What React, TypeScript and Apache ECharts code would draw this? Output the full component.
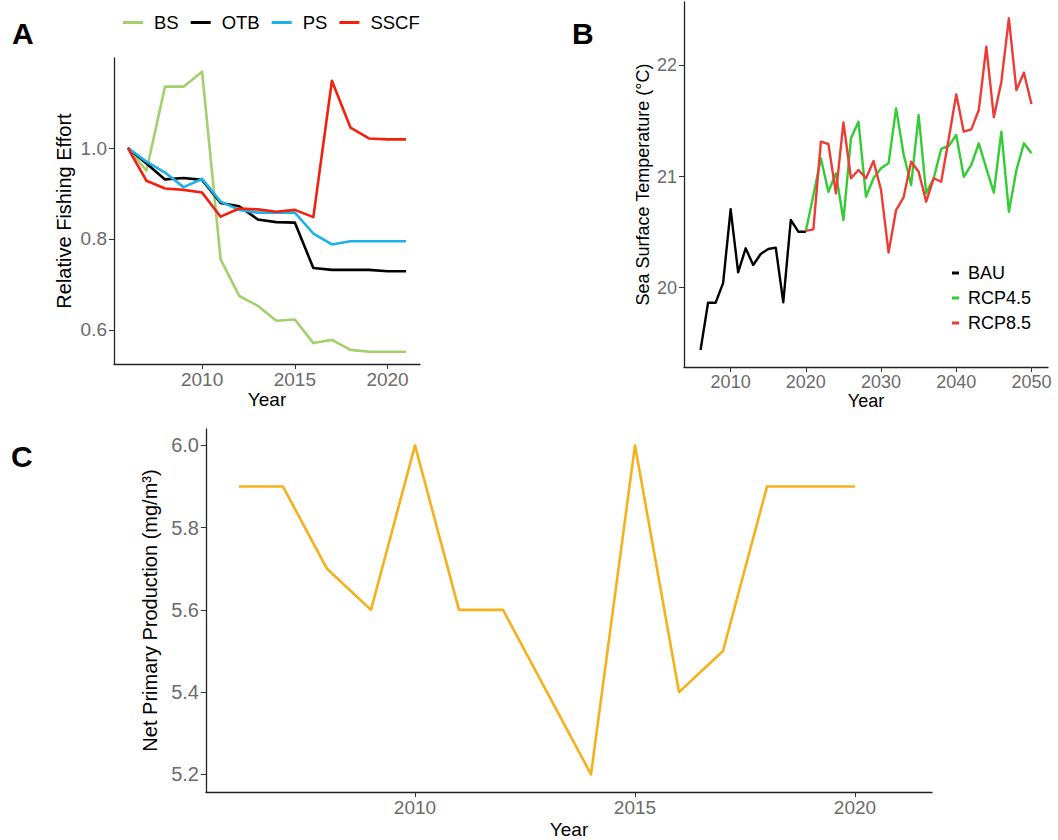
import React, { useEffect, useRef } from "react";
import * as echarts from "echarts";

// ---------- Panel A: relative fishing effort ----------
const yearsA = [2006, 2007, 2008, 2009, 2010, 2011, 2012, 2013, 2014, 2015, 2016, 2017, 2018, 2019, 2020, 2021];
const bsA = [1.0, 0.95, 1.135, 1.135, 1.168, 0.755, 0.675, 0.653, 0.62, 0.623, 0.571, 0.578, 0.556, 0.552, 0.552, 0.552];
const otbA = [1.0, 0.966, 0.931, 0.934, 0.93, 0.879, 0.872, 0.843, 0.837, 0.836, 0.736, 0.732, 0.732, 0.732, 0.729, 0.729];
const psA = [1.0, 0.97, 0.946, 0.914, 0.932, 0.882, 0.864, 0.858, 0.858, 0.858, 0.812, 0.788, 0.795, 0.795, 0.795, 0.795];
const sscfA = [1.0, 0.928, 0.911, 0.908, 0.902, 0.849, 0.867, 0.865, 0.86, 0.864, 0.848, 1.148, 1.045, 1.021, 1.019, 1.019];
const xTicksA = [2010, 2015, 2020];
const yTicksA = [0.6, 0.8, 1.0];

// ---------- Panel B: sea surface temperature ----------
const yearsBAU = [2006, 2007, 2008, 2009, 2010, 2011, 2012, 2013, 2014, 2015, 2016, 2017, 2018, 2019, 2020];
const bau = [19.437, 19.863, 19.863, 20.04, 20.705, 20.137, 20.353, 20.203, 20.302, 20.347, 20.359, 19.867, 20.608, 20.503, 20.503];
const yearsRCP = [2020, 2021, 2022, 2023, 2024, 2025, 2026, 2027, 2028, 2029, 2030, 2031, 2032, 2033, 2034, 2035, 2036, 2037, 2038, 2039, 2040, 2041, 2042, 2043, 2044, 2045, 2046, 2047, 2048, 2049, 2050];
const rcp45 = [20.51, 20.83, 21.164, 20.863, 21.029, 20.608, 21.344, 21.494, 20.818, 20.984, 21.074, 21.119, 21.614, 21.2, 20.923, 21.554, 20.849, 20.984, 21.248, 21.275, 21.374, 20.998, 21.104, 21.299, 21.074, 20.854, 21.404, 20.683, 21.059, 21.299, 21.209];
const rcp85 = [20.51, 20.524, 21.314, 21.293, 20.849, 21.488, 20.984, 21.059, 20.984, 21.14, 20.878, 20.314, 20.698, 20.813, 21.133, 21.043, 20.773, 20.984, 20.953, 21.34, 21.74, 21.404, 21.425, 21.599, 22.169, 21.533, 21.854, 22.425, 21.779, 21.935, 21.653];
const xTicksB = [2010, 2020, 2030, 2040, 2050];
const yTicksB = [20, 21, 22];

// ---------- Panel C: net primary production ----------
const yearsC = [2006, 2007, 2008, 2009, 2010, 2011, 2012, 2013, 2014, 2015, 2016, 2017, 2018, 2019, 2020];
const npp = [5.9, 5.9, 5.7, 5.6, 6.0, 5.6, 5.6, 5.4, 5.2, 6.0, 5.4, 5.5, 5.9, 5.9, 5.9];
const xTicksC = [2010, 2015, 2020];
const yTicksC = [5.2, 5.4, 5.6, 5.8, 6.0];

const FONT = "Liberation Sans, Arial, sans-serif";
const LABEL_COLOR = "#6b6b6b";

const pairs = (xs: number[], ys: number[]) => xs.map((x, i) => [x, ys[i]]);

function xAxisDef(gridIndex: number, min: number, max: number, ticks: number[], fs: number, nameGap: number, nameFs: number) {
  return {
    type: "value",
    gridIndex,
    min,
    max,
    name: "Year",
    nameLocation: "middle",
    nameGap,
    nameTextStyle: { color: "#000", fontSize: nameFs, fontFamily: FONT },
    axisLine: { show: true, onZero: false, lineStyle: { color: "#222", width: 1.3 } },
    axisTick: { show: true, length: 5, customValues: ticks, lineStyle: { color: "#333", width: 1 } },
    axisLabel: {
      show: true,
      customValues: ticks,
      margin: 6,
      color: LABEL_COLOR,
      fontSize: fs,
      fontFamily: FONT,
      formatter: (v: number) => String(v),
    },
    splitLine: { show: false },
  };
}

function yAxisDef(gridIndex: number, min: number, max: number, ticks: number[], fs: number, name: string, nameGap: number, nameFs: number, digits: number) {
  return {
    type: "value",
    gridIndex,
    min,
    max,
    name,
    nameLocation: "middle",
    nameGap,
    nameTextStyle: { color: "#000", fontSize: nameFs, fontFamily: FONT },
    axisLine: { show: true, onZero: false, lineStyle: { color: "#222", width: 1.3 } },
    axisTick: { show: true, length: 5, customValues: ticks, lineStyle: { color: "#333", width: 1 } },
    axisLabel: {
      show: true,
      customValues: ticks,
      margin: 7,
      color: LABEL_COLOR,
      fontSize: fs,
      fontFamily: FONT,
      formatter: (v: number) => v.toFixed(digits),
    },
    splitLine: { show: false },
  };
}

function lineSeries(name: string, color: string, data: number[][], axisIndex: number, width = 2.6) {
  return {
    type: "line",
    name,
    data,
    xAxisIndex: axisIndex,
    yAxisIndex: axisIndex,
    color,
    showSymbol: false,
    symbol: "none",
    lineStyle: { color, width, join: "round" },
    emphasis: { disabled: true },
    silent: true,
  };
}

export default function App() {
  const ref = useRef<HTMLDivElement>(null);

  useEffect(() => {
    if (!ref.current) return;
    const chart = echarts.init(ref.current, undefined, { renderer: "svg" });
    const option: any = {
      animation: false,
      backgroundColor: "#ffffff",
      textStyle: { fontFamily: FONT },
      grid: [
        { left: 114, top: 58, width: 306, height: 306 },
        { left: 684, top: 2, width: 364, height: 365 },
        { left: 206, top: 429, width: 726, height: 363 },
      ],
      xAxis: [
        xAxisDef(0, 2005.25, 2021.75, xTicksA, 19, 20, 19),
        xAxisDef(1, 2003.8, 2052.2, xTicksB, 18, 20, 18),
        xAxisDef(2, 2005.25, 2021.75, xTicksC, 19, 28, 19),
      ],
      yAxis: [
        yAxisDef(0, 0.525, 1.198, yTicksA, 19, "Relative Fishing Effort", 40, 20, 1),
        yAxisDef(1, 19.284, 22.572, yTicksB, 18, "Sea Surface Temperature (°C)", 32, 18, 0),
        yAxisDef(2, 5.157, 6.04, yTicksC, 20, "Net Primary Production (mg/m³)", 38, 20, 1),
      ],
      legend: [
        {
          data: ["BS", "OTB", "PS", "SSCF"],
          orient: "horizontal",
          left: 123,
          top: 13,
          padding: 0,
          icon: "rect",
          itemWidth: 20,
          itemHeight: 3,
          itemGap: 12,
          selectedMode: false,
          textStyle: { fontSize: 18.5, color: "#000", fontFamily: FONT, padding: [0, 0, 0, 6] },
        },
        {
          data: ["BAU", "RCP4.5", "RCP8.5"],
          orient: "vertical",
          left: 952,
          top: 264,
          padding: 0,
          icon: "rect",
          itemWidth: 7,
          itemHeight: 3,
          itemGap: 7,
          selectedMode: false,
          textStyle: { fontSize: 18, lineHeight: 18, color: "#000", fontFamily: FONT, padding: [0, 0, 0, 4] },
        },
      ],
      graphic: [
        { type: "text", left: 12, top: 18, style: { text: "A", font: "bold 30px Liberation Sans, Arial, sans-serif", fill: "#000" } },
        { type: "text", left: 572, top: 18, style: { text: "B", font: "bold 30px Liberation Sans, Arial, sans-serif", fill: "#000" } },
        { type: "text", left: 11, top: 441, style: { text: "C", font: "bold 30px Liberation Sans, Arial, sans-serif", fill: "#000" } },
      ],
      series: [
        lineSeries("BS", "#a3d06c", pairs(yearsA, bsA), 0),
        lineSeries("OTB", "#000000", pairs(yearsA, otbA), 0),
        lineSeries("PS", "#1ab2e8", pairs(yearsA, psA), 0),
        lineSeries("SSCF", "#f2200f", pairs(yearsA, sscfA), 0),
        lineSeries("BAU", "#000000", pairs(yearsBAU, bau), 1, 2.4),
        lineSeries("RCP4.5", "#33cc33", pairs(yearsRCP, rcp45), 1, 2.4),
        lineSeries("RCP8.5", "#ee3b33", pairs(yearsRCP, rcp85), 1, 2.4),
        lineSeries("NPP", "#f6b01c", pairs(yearsC, npp), 2, 2.6),
      ],
    };
    chart.setOption(option);
    return () => chart.dispose();
  }, []);

  return (
    <div
      ref={ref}
      style={{ position: "absolute", left: 0, top: 0, width: 1058, height: 840, background: "#fff" }}
    />
  );
}
